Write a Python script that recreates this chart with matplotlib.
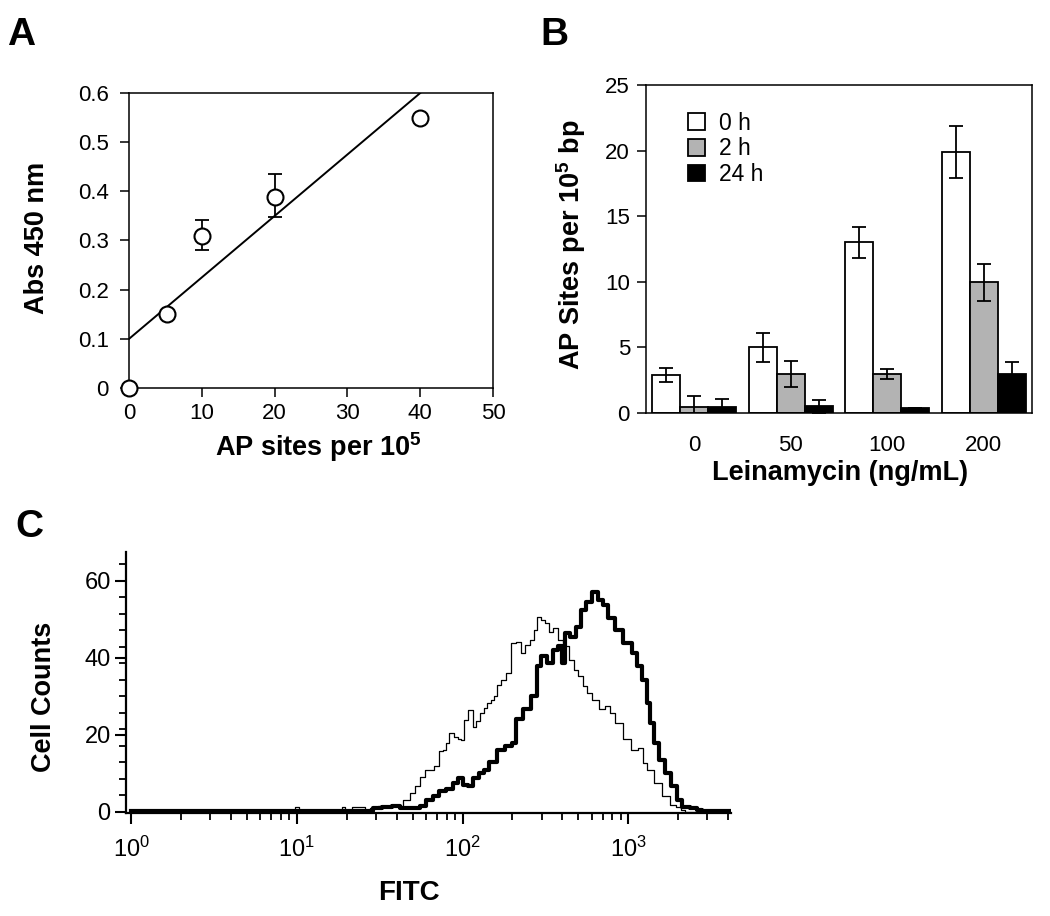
import numpy as np
import matplotlib
matplotlib.use("Agg")
import matplotlib.pyplot as plt
from matplotlib import font_manager
from matplotlib.ticker import FixedLocator, NullFormatter
from matplotlib.patches import Patch

# ---------------- data ----------------
# Panel A
a_x = [0, 5.2, 10, 20, 40]
a_y = [0.0, 0.15, 0.309, 0.388, 0.549]
a_err_lo = [0, 0, 0.028, 0.040, 0]
a_err_hi = [0, 0, 0.033, 0.047, 0]
a_fit_x = [0, 40]
a_fit_y = [0.1, 0.6]
a_xticks = [0, 10, 20, 30, 40, 50]
a_yticks = [0, 0.1, 0.2, 0.3, 0.4, 0.5, 0.6]
a_yticklabels = ["0", "0.1", "0.2", "0.3", "0.4", "0.5", "0.6"]

# Panel B
b_categories = ["0", "50", "100", "200"]
b_series = ["0 h", "2 h", "24 h"]
b_0h = [2.9, 5.0, 13.0, 19.9]
b_0h_err = [0.5, 1.1, 1.2, 2.0]
b_2h = [0.48, 2.95, 2.95, 9.95]
b_2h_err = [0.8, 1.0, 0.38, 1.43]
b_24h = [0.45, 0.5, 0.35, 2.97]
b_24h_err = [0.6, 0.5, 0.0, 0.9]
b_colors = ["white", "#b3b3b3", "black"]

# Panel C (log10 FITC, cell counts)
c_thin_log = [0.00, 0.98, 1.00, 1.02, 1.27, 1.28, 1.30, 1.36, 1.40, 1.42, 1.46, 1.52,
              1.58, 1.62, 1.66, 1.70, 1.72, 1.76, 1.78, 1.81, 1.84, 1.87, 1.89, 1.91,
              1.93, 1.96, 1.98, 2.00, 2.02, 2.05, 2.07, 2.09, 2.12, 2.14, 2.16, 2.18,
              2.20, 2.22, 2.24, 2.28, 2.30, 2.34, 2.36, 2.39, 2.42, 2.44, 2.46, 2.49,
              2.51, 2.53, 2.56, 2.59, 2.62, 2.66, 2.68, 2.71, 2.74, 2.76, 2.80, 2.84,
              2.88, 2.90, 2.94, 2.99, 3.04, 3.08, 3.10, 3.13, 3.18, 3.23, 3.27, 3.30,
              3.33, 3.36, 3.62]
c_thin_cnt = [0.0, 0.0, 1.2, 0.0, 0.0, 1.2, 0.0, 1.2, 1.2, 0.0, 1.0, 1.5,
              1.5, 1.5, 3.0, 5.0, 6.6, 9.0, 10.9, 11.0, 11.8, 15.7, 16.0, 17.9,
              20.5, 19.5, 19.0, 18.7, 23.9, 26.5, 22.0, 23.5, 25.7, 27.0, 28.3, 29.0,
              30.0, 33.0, 34.3, 36.0, 43.8, 44.2, 41.3, 43.4, 44.7, 47.3, 50.7, 49.9,
              49.0, 46.8, 47.8, 44.7, 43.0, 39.5, 36.9, 35.2, 32.6, 30.9, 29.1, 26.6,
              27.4, 25.8, 23.1, 18.8, 16.2, 16.7, 12.7, 11.0, 7.6, 4.1, 1.9, 1.3,
              0.5, 0.0, 0.0]
c_thick_log = [0.00, 1.45, 1.47, 1.55, 1.60, 1.64, 1.68, 1.72, 1.76, 1.80, 1.84, 1.88,
               1.92, 1.96, 1.98, 2.02, 2.04, 2.08, 2.12, 2.14, 2.18, 2.23, 2.28, 2.31,
               2.34, 2.39, 2.44, 2.46, 2.49, 2.53, 2.56, 2.59, 2.61, 2.63, 2.67, 2.70,
               2.73, 2.76, 2.80, 2.83, 2.86, 2.90, 2.94, 3.00, 3.04, 3.07, 3.10, 3.12,
               3.14, 3.17, 3.20, 3.24, 3.28, 3.31, 3.34, 3.40, 3.43, 3.46, 3.62]
c_thick_cnt = [0.3, 0.3, 1.0, 1.3, 1.5, 1.0, 1.0, 1.0, 1.5, 3.0, 4.0, 5.3,
               6.0, 7.5, 8.8, 7.0, 6.6, 8.8, 10.0, 11.0, 13.0, 16.0, 17.0, 17.9,
               24.0, 26.6, 30.0, 37.8, 40.4, 38.7, 42.1, 43.0, 38.7, 46.4, 45.5, 48.1,
               52.5, 54.6, 57.2, 55.0, 53.8, 50.3, 47.3, 43.8, 41.2, 37.8, 34.3, 28.3,
               23.1, 17.9, 13.6, 10.2, 6.7, 3.2, 1.3, 1.1, 0.5, 0.3, 0.3]
c_xticks = [1, 10, 100, 1000]
c_xticklabels = [r"$\mathregular{10^{0}}$", r"$\mathregular{10^{1}}$",
                 r"$\mathregular{10^{2}}$", r"$\mathregular{10^{3}}$"]
c_yticks = [0, 20, 40, 60]

# ---------------- fonts ----------------
available = {f.name for f in font_manager.fontManager.ttflist}
SANS = "Liberation Sans" if "Liberation Sans" in available else "DejaVu Sans"
NARROW = "Liberation Sans Narrow" if "Liberation Sans Narrow" in available else SANS
plt.rcParams["font.family"] = [SANS, "DejaVu Sans"]
plt.rcParams["mathtext.fontset"] = "custom"
plt.rcParams["mathtext.rm"] = SANS
plt.rcParams["mathtext.bf"] = SANS + ":bold"

LABEL_FS = 19.5
TICK_FS = 16

fig = plt.figure(figsize=(10.5, 9.16), dpi=100)


def place_labels(ax, xl, yl):
    ax.xaxis.label.set_va("center")
    ax.yaxis.label.set_va("center")
    ax.xaxis.set_label_coords(*xl)
    ax.yaxis.set_label_coords(*yl)


# ---------------- Panel A ----------------
axA = fig.add_axes([0.1229, 0.5764, 0.3467, 0.3221])
axA.plot(a_fit_x, a_fit_y, color="black", lw=1.4, zorder=2)
axA.errorbar(a_x, a_y, yerr=[a_err_lo, a_err_hi], fmt="none", ecolor="black",
             elinewidth=1.3, capsize=5, capthick=1.3, zorder=3)
axA.plot(a_x, a_y, "o", ms=11.5, mfc="white", mec="black", mew=1.5, zorder=4,
         clip_on=False)
axA.set_xlim(0, 50)
axA.set_ylim(0, 0.6)
axA.set_xticks(a_xticks)
axA.set_yticks(a_yticks)
axA.set_yticklabels(a_yticklabels)
axA.tick_params(direction="out", length=6.5, width=1.1, labelsize=TICK_FS,
                top=False, right=False)
axA.tick_params(axis="y", pad=8)
axA.tick_params(axis="x", pad=4)
for s in axA.spines.values():
    s.set_linewidth(1.1)
axA.set_xlabel(r"AP sites per 10$^\mathregular{5}$", fontsize=LABEL_FS, fontweight="bold")
axA.set_ylabel("Abs 450 nm", fontsize=LABEL_FS, fontweight="bold")
place_labels(axA, (0.519, -0.2), (-0.253, 0.508))

# ---------------- Panel B ----------------
axB = fig.add_axes([0.6152, 0.5491, 0.3676, 0.3581])
xpos = np.arange(len(b_categories))
w = 0.29
vals = [b_0h, b_2h, b_24h]
errs = [b_0h_err, b_2h_err, b_24h_err]
for i, (v, e, c, lab) in enumerate(zip(vals, errs, b_colors, b_series)):
    axB.bar(xpos + (i - 1) * w, v, width=w, color=c, edgecolor="black",
            linewidth=1.3, label=lab, zorder=2)
    axB.errorbar(xpos + (i - 1) * w, v, yerr=e, fmt="none", ecolor="black",
                 elinewidth=1.3, capsize=5, capthick=1.3, zorder=3)
axB.set_xlim(-0.5, 3.5)
axB.set_ylim(0, 25)
axB.set_yticks([0, 5, 10, 15, 20, 25])
axB.set_xticks(xpos)
axB.set_xticklabels(b_categories)
axB.tick_params(axis="y", direction="out", length=6.5, width=1.1, labelsize=TICK_FS, pad=5)
axB.tick_params(axis="x", length=0, labelsize=TICK_FS, pad=16)
for s in axB.spines.values():
    s.set_linewidth(1.1)
axB.set_xlabel("Leinamycin (ng/mL)", fontsize=LABEL_FS, fontweight="bold")
axB.set_ylabel(r"AP Sites per 10$^\mathregular{5}$ bp", fontsize=LABEL_FS, fontweight="bold")
place_labels(axB, (0.503, -0.183), (-0.194, 0.512))
handles = [Patch(facecolor=c, edgecolor="black", linewidth=1.3) for c in b_colors]
axB.legend(handles, b_series, loc="upper left", bbox_to_anchor=(0.109, 0.919),
           frameon=False, fontsize=16.5, handlelength=0.75, handleheight=0.75,
           handletextpad=0.6, labelspacing=0.12, borderpad=0, borderaxespad=0)

# ---------------- Panel C ----------------
axC = fig.add_axes([0.12, 0.1124, 0.5762, 0.285])
axC.plot(np.power(10.0, c_thin_log), c_thin_cnt, color="black", lw=0.9,
         drawstyle="steps-mid", zorder=3)
axC.plot(np.power(10.0, c_thick_log), c_thick_cnt, color="black", lw=3.0,
         drawstyle="steps-mid", zorder=4)
axC.set_xscale("log")
axC.set_xlim(0.93, 10 ** 3.62)
axC.set_ylim(-0.3, 67.5)
axC.spines["top"].set_visible(False)
axC.spines["right"].set_visible(False)
axC.spines["left"].set_linewidth(1.6)
axC.spines["bottom"].set_linewidth(1.6)
axC.xaxis.set_major_locator(FixedLocator(c_xticks))
axC.set_xticklabels(c_xticklabels, fontfamily=NARROW)
axC.xaxis.set_minor_locator(FixedLocator(
    [m * 10 ** d for d in range(0, 4) for m in range(2, 10) if m * 10 ** d < 10 ** 3.62]))
axC.xaxis.set_minor_formatter(NullFormatter())
axC.set_yticks(c_yticks)
axC.set_yticklabels([str(t) for t in c_yticks], fontfamily=NARROW)
axC.yaxis.set_minor_locator(FixedLocator([i * 60 / 14 for i in range(0, 16)]))
axC.tick_params(which="major", direction="out", length=8, width=1.5, labelsize=17)
axC.tick_params(axis="x", which="major", pad=9)
axC.tick_params(axis="y", which="major", pad=3)
axC.tick_params(which="minor", direction="out", length=5, width=1.3)
axC.set_xlabel("FITC", fontsize=20, fontweight="bold", fontfamily=NARROW)
axC.set_ylabel("Cell Counts", fontsize=LABEL_FS, fontweight="bold")
place_labels(axC, (0.468, -0.306), (-0.136, 0.444))

# ---------------- panel letters ----------------
fig.text(0.007, 0.951, "A", fontsize=28, fontweight="bold")
fig.text(0.515, 0.951, "B", fontsize=28, fontweight="bold")
fig.text(0.015, 0.414, "C", fontsize=28, fontweight="bold", fontfamily=NARROW)

fig.savefig("out.png", dpi=100)
